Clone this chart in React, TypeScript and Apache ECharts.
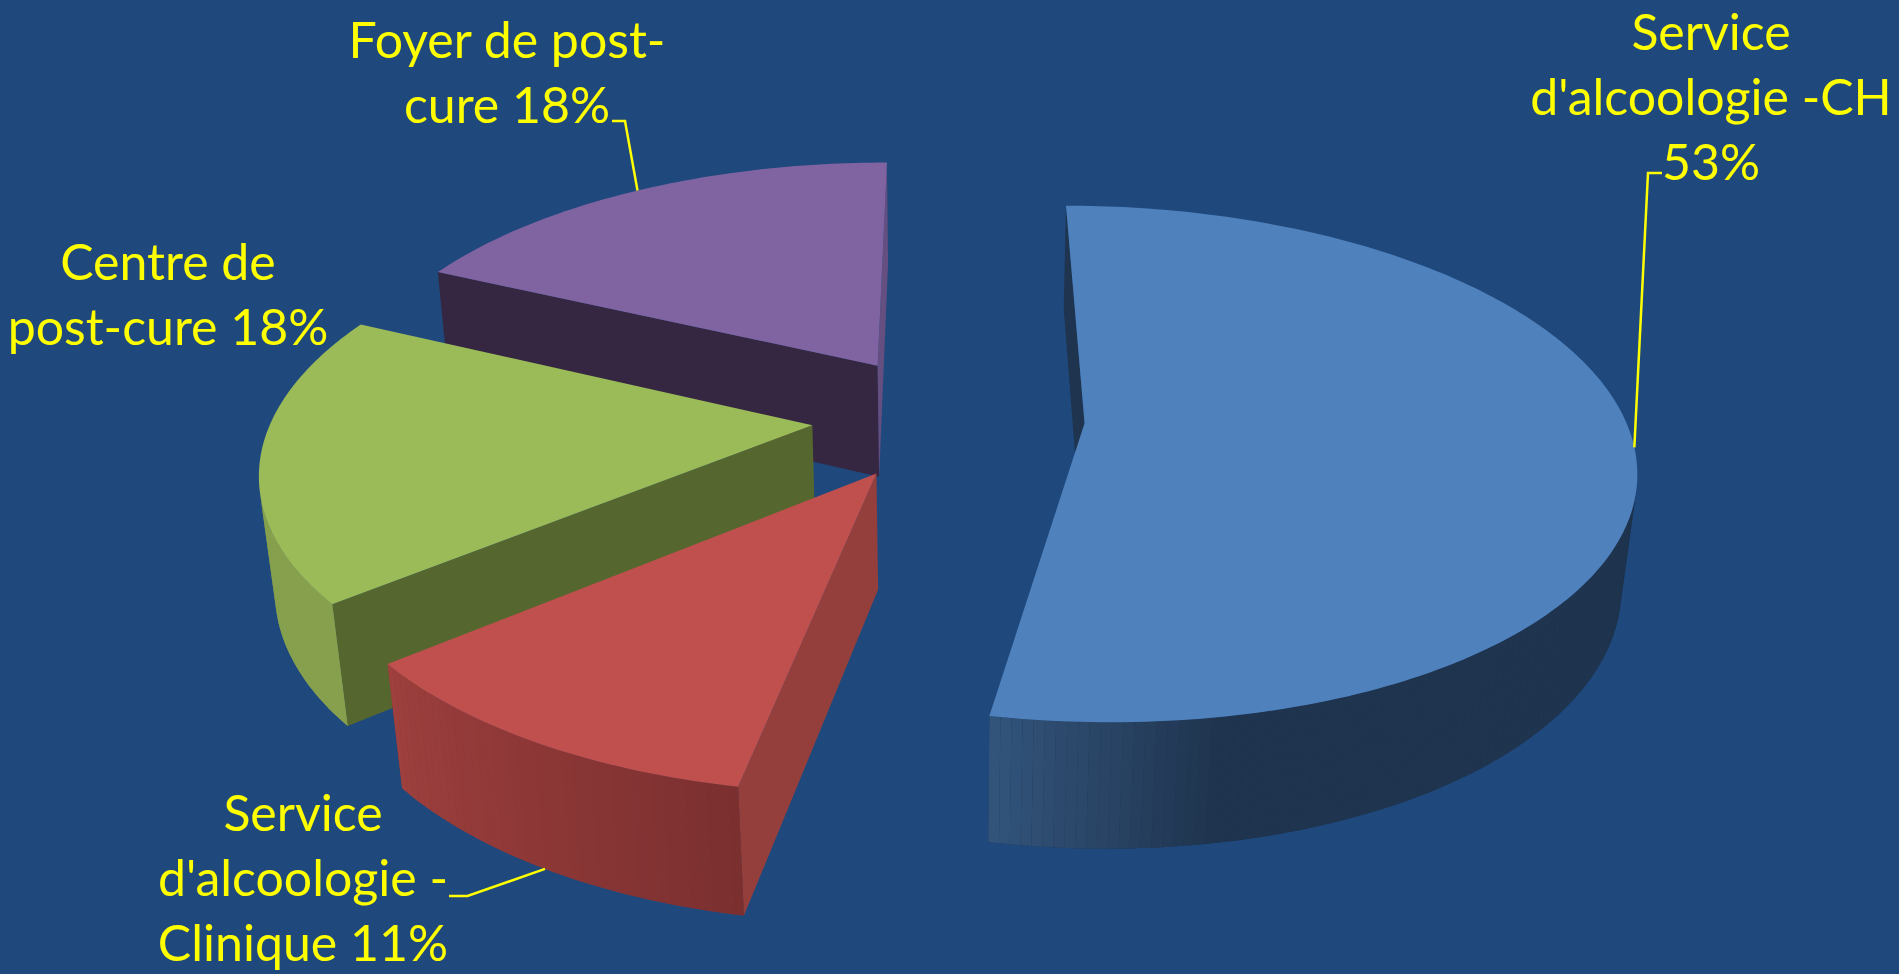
import React, { useEffect, useRef } from "react";
import * as echarts from "echarts";

// Slices, clockwise from twelve o'clock.
const categories = [
  "Service\nd'alcoologie -CH\n53%",
  "Service\nd'alcoologie -\nClinique 11%",
  "Centre de\npost-cure 18%",
  "Foyer de post-\ncure 18%",
];
const shares = [53, 11, 18, 18];
const topColors = ["#4F81BD", "#C0504D", "#9BBB59", "#8064A2"];
const radialColors = ["#1F344E", "#953F3C", "#55672F", "#352741"];
const endRadialColors = ["#1F344E", "#953F3C", "#55672F", "#654E80"];
// Wall shading: [clock angle, colour] stops.
const wallStops: [number, string][][] = [
  [[0, "#1F344E"], [170, "#1F344E"], [191, "#33557D"]],
  [[190, "#7A2F2F"], [231, "#9E403E"]],
  [[230, "#86A04E"], [296, "#86A04E"]],
  [[295, "#5A4672"], [360, "#5A4672"]],
];

// Camera used to flatten the pie disc onto the page.
const cam = { ox: 948.3, oy: 417.3, sx: 540, sy: 250, depth: 116, persp: 0.157, perspZ: 0.023, explode: 0.2525 };

// Label blocks and their leader lines (bends given in page pixels).
const labelBoxes = [
  { x: 1711, y: 96 },
  { x: 303, y: 877 },
  { x: 168, y: 293 },
  { x: 507, y: 71 },
];
const leaderBends: number[][][] = [
  [[1648, 173], [1662, 173]],
  [[467.5, 896], [449, 896]],
  [],
  [[625, 121], [612, 121]],
];
const leaderOnFloor = [0, 1, 0, 0];
const textColor = "#FFFF00";
const labelFont = "Lato";
const labelSize = 50;
const labelLine = 65;

const total = shares.reduce((a, b) => a + b, 0);

function project(X: number, Y: number, Z: number): number[] {
  const w = 1 + cam.persp * Y + cam.perspZ * Z;
  return [cam.ox + (cam.sx * X) / w, cam.oy + (-cam.sy * Y + cam.depth * Z) / w];
}

function hex(c: string): number[] {
  return [1, 3, 5].map((i) => parseInt(c.slice(i, i + 2), 16));
}

function wallColor(stops: [number, string][], deg: number): string {
  for (let i = 0; i < stops.length - 1; i++) {
    const [a, ca] = stops[i];
    const [b, cb] = stops[i + 1];
    if (deg >= a && deg <= b) {
      const f = (deg - a) / (b - a);
      const A = hex(ca);
      const B = hex(cb);
      return `rgb(${A.map((v, k) => Math.round(v + (B[k] - v) * f)).join(",")})`;
    }
  }
  return stops[stops.length - 1][1];
}

function isFacing(q: number[][]): boolean {
  let area = 0;
  for (let i = 0; i < q.length; i++) {
    const a = q[i];
    const b = q[(i + 1) % q.length];
    area += a[0] * b[1] - b[0] * a[1];
  }
  return area < 0;
}

function renderSlice(_params: any, api: any) {
  const idx = api.value(0);
  const before = shares.slice(0, idx).reduce((a, b) => a + b, 0);
  const from = (before / total) * 360;
  const to = ((before + api.value(1)) / total) * 360;
  const mid = ((from + to) / 2) * (Math.PI / 180);
  const cx = cam.explode * Math.sin(mid);
  const cy = cam.explode * Math.cos(mid);
  const rim = (deg: number, z: number) => {
    const r = (deg * Math.PI) / 180;
    return project(cx + Math.sin(r), cy + Math.cos(r), z);
  };
  const apex = (z: number) => project(cx, cy, z);

  const children: any[] = [];
  const poly = (points: number[][], fill: string) =>
    children.push({ type: "polygon", shape: { points }, style: { fill } });
  const quad = (q: number[][], fill: string) => {
    if (isFacing(q)) poly(q, fill);
  };

  // Start-side face first.
  quad([apex(0), rim(from, 0), rim(from, 1), apex(1)], radialColors[idx]);

  // Curved wall: a solid underlay of the visible part, then thin shaded bands.
  const steps = Math.ceil(to - from);
  const at = (i: number) => from + ((to - from) * i) / steps;
  const top: number[][] = [apex(0)];
  const upper: number[][] = [];
  const lower: number[][] = [];
  const bands: [number[][], string][] = [];
  for (let i = 0; i < steps; i++) {
    const a = at(i);
    const b = at(i + 1);
    const q = [rim(a, 0), rim(b, 0), rim(b, 1), rim(a, 1)];
    top.push(rim(a, 0));
    if (isFacing(q)) {
      if (!upper.length) {
        upper.push(q[0]);
        lower.push(q[3]);
      }
      upper.push(q[1]);
      lower.push(q[2]);
      bands.push([q, wallColor(wallStops[idx], (a + b) / 2)]);
    }
  }
  top.push(rim(to, 0));
  if (bands.length) {
    poly([...upper, ...lower.slice().reverse()], bands[Math.floor(bands.length / 2)][1]);
    bands.forEach(([q, c]) => poly(q, c));
  }

  // End-side face, then the lit top.
  quad([rim(to, 0), apex(0), apex(1), rim(to, 1)], endRadialColors[idx]);
  poly(top, topColors[idx]);

  // Leader from the slice's bisector out to its label.
  if (leaderBends[idx].length) {
    const anchor = rim((from + to) / 2, leaderOnFloor[idx]);
    children.push({
      type: "polyline",
      shape: { points: [anchor, ...leaderBends[idx]] },
      style: { stroke: textColor, lineWidth: 2.5, fill: "none" },
      z2: 10,
    });
  }

  // One text element per line, centred on the label block.
  const lines = categories[idx].split("\n");
  lines.forEach((line, i) => {
    children.push({
      type: "text",
      z2: 20,
      style: {
        text: line,
        x: labelBoxes[idx].x,
        y: labelBoxes[idx].y + (i - (lines.length - 1) / 2) * labelLine,
        fill: textColor,
        fontFamily: labelFont,
        fontSize: labelSize,
        align: "center",
        verticalAlign: "middle",
      },
    });
  });
  return { type: "group", children };
}

export default function App() {
  const ref = useRef<HTMLDivElement>(null);
  useEffect(() => {
    document.body.style.margin = "0";
    const chart = echarts.init(ref.current!, null, { renderer: "svg" });
    // Back slices are painted first so nearer ones overlap them.
    const order = shares.map((_, i) => i).reverse();
    chart.setOption({
      animation: false,
      backgroundColor: "#1F497D",
      series: [
        {
          type: "custom",
          coordinateSystem: "none",
          renderItem: renderSlice,
          encode: { value: [1] },
          data: order.map((i) => [i, shares[i]]),
        },
      ],
    });
    return () => chart.dispose();
  }, []);
  return <div ref={ref} style={{ width: 1899, height: 974, overflow: "hidden" }} />;
}
